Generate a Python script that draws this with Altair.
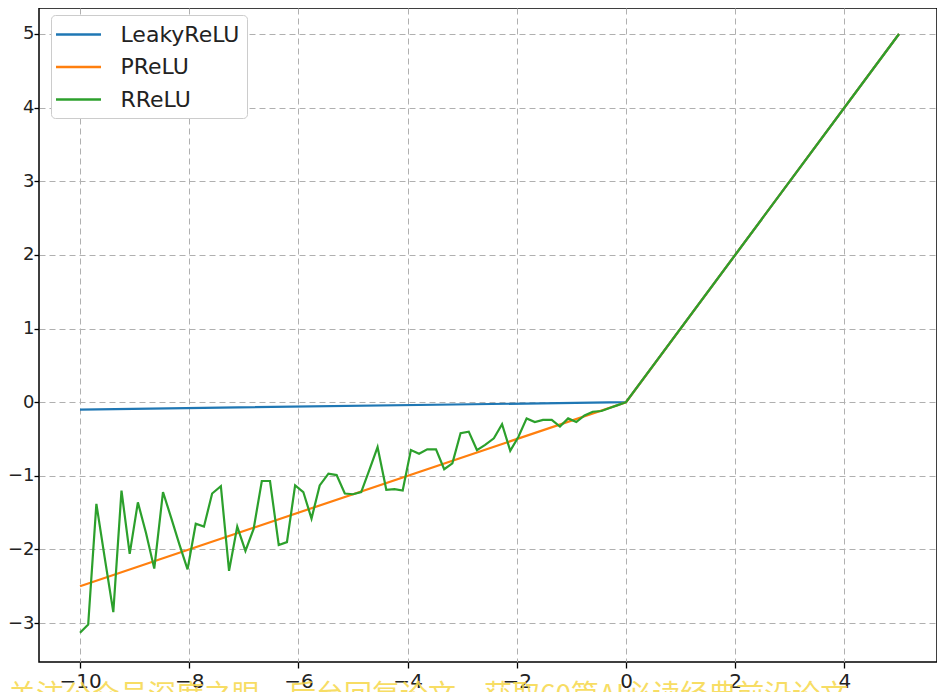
import altair as alt
import pandas as pd

series_names = ["LeakyReLU", "PReLU", "RReLU"]
series_colors = ["#1f77b4", "#ff7f0e", "#2ca02c"]

leaky_x = [-10.0, 0.0, 5.0]
leaky_y = [-0.10, 0.0, 5.0]

prelu_x = [-10.0, 0.0, 5.0]
prelu_y = [-2.50, 0.0, 5.0]

rrelu_x = [-10.00, -9.85, -9.70, -9.55, -9.39, -9.24, -9.09, -8.94, -8.79, -8.64,
           -8.48, -8.33, -8.18, -8.03, -7.88, -7.73, -7.58, -7.42, -7.27, -7.12,
           -6.97, -6.82, -6.67, -6.52, -6.36, -6.21, -6.06, -5.91, -5.76, -5.61,
           -5.45, -5.30, -5.15, -5.00, -4.85, -4.70, -4.55, -4.39, -4.24, -4.09,
           -3.94, -3.79, -3.64, -3.48, -3.33, -3.18, -3.03, -2.88, -2.73, -2.58,
           -2.42, -2.27, -2.12, -1.97, -1.82, -1.67, -1.52, -1.36, -1.21, -1.06,
           -0.91, -0.76, -0.61, -0.45, -0.30, -0.15, 0.00, 5.00]
rrelu_y = [-3.13, -3.02, -1.38, -2.10, -2.85, -1.20, -2.06, -1.36, -1.78, -2.26,
           -1.22, -1.57, -1.93, -2.27, -1.65, -1.69, -1.24, -1.14, -2.29, -1.69,
           -2.02, -1.72, -1.07, -1.07, -1.94, -1.90, -1.13, -1.22, -1.58, -1.13,
           -0.97, -0.99, -1.24, -1.25, -1.22, -0.92, -0.61, -1.19, -1.18, -1.20,
           -0.65, -0.70, -0.64, -0.64, -0.91, -0.83, -0.42, -0.40, -0.65, -0.58,
           -0.49, -0.30, -0.66, -0.47, -0.22, -0.27, -0.24, -0.24, -0.33, -0.22,
           -0.27, -0.18, -0.13, -0.12, -0.08, -0.04, 0.00, 5.00]

x_ticks = [-10, -8, -6, -4, -2, 0, 2, 4]
y_ticks = [-3, -2, -1, 0, 1, 2, 3, 4, 5]
x_domain = [-10.751, 5.696]
y_domain = [-3.528, 5.353]

watermark = "关注公众号深度之眼，后台回复论文，获取60篇AI必读经典前沿论文"

rows = []
for name, xs, ys in zip(series_names, [leaky_x, prelu_x, rrelu_x], [leaky_y, prelu_y, rrelu_y]):
    for i, (xv, yv) in enumerate(zip(xs, ys)):
        rows.append({"series": name, "x": xv, "y": yv, "i": i})
df = pd.DataFrame(rows)

lines = alt.Chart(df).mark_line(strokeWidth=2.2, clip=True).encode(
    x=alt.X("x:Q", scale=alt.Scale(domain=x_domain, nice=False, zero=False),
            axis=alt.Axis(values=x_ticks, title=None, labelFontSize=20, labelPadding=3,
                          tickSize=6)),
    y=alt.Y("y:Q", scale=alt.Scale(domain=y_domain, nice=False, zero=False),
            axis=alt.Axis(values=y_ticks, title=None, labelFontSize=18, labelPadding=0,
                          tickSize=5)),
    color=alt.Color("series:N",
                    scale=alt.Scale(domain=series_names, range=series_colors),
                    legend=alt.Legend(orient="none", legendX=12, legendY=7, title=None,
                                      symbolType="M-2,0H2", symbolSize=506,
                                      symbolStrokeWidth=2.5, symbolOffset=8,
                                      labelFontSize=22,
                                      labelFont="DejaVu Sans", labelColor="#222222",
                                      labelOffset=29.5, padding=7, rowPadding=8.5,
                                      strokeColor="#cccccc", fillColor="white",
                                      cornerRadius=4)),
    order="i:Q",
)

wm = alt.Chart(pd.DataFrame({"t": [watermark]})).mark_text(
    align="left", baseline="alphabetic", font="Noto Sans CJK SC", fontSize=28,
    color="#f6d84a", opacity=0.85
).encode(x=alt.value(-31), y=alt.value(697), text="t:N")

chart = alt.layer(lines, wm).properties(
    width=898, height=654,
    autosize=alt.AutoSizeParams(type="none"),
    padding={"left": 31, "top": 0, "right": 0, "bottom": 30},
).configure_view(stroke="black", strokeWidth=1.5).configure_axis(
    grid=True, gridColor="#b0b0b0", gridDash=[6, 4], gridWidth=1,
    domain=False, tickColor="black", tickWidth=1.3,
    labelFont="DejaVu Sans", labelColor="#222222",
)

chart.save("out.html", embed_options={"renderer": "svg", "actions": False})
